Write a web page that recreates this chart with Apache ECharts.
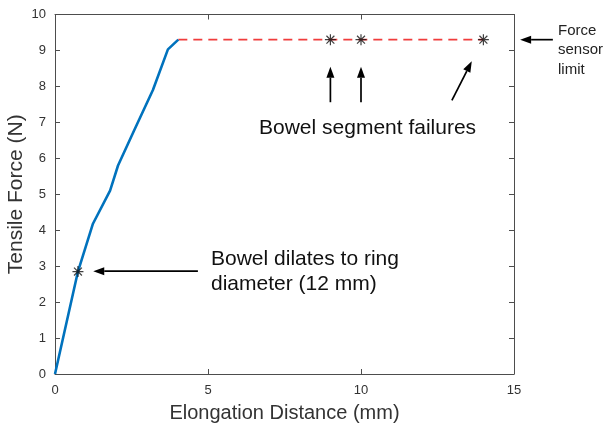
<!DOCTYPE html>
<html>
<head>
<meta charset="utf-8">
<script src="https://cdn.jsdelivr.net/npm/echarts@6/dist/echarts.min.js"></script>
<style>html,body{margin:0;padding:0;background:#fff;}#c{width:606px;height:425px;}</style>
</head>
<body>
<div id="c"></div>
<script>
// Data
var forceCurve = [[0,0],[0.75,2.85],[1.24,4.18],[1.8,5.1],[2.06,5.8],[2.6,6.8],[3.2,7.9],[3.69,9.03],[4.03,9.3]];
var sensorLimit = [[4.03,9.3],[14,9.3]];
var dilatePoint = [[0.75,2.85]];
var failurePoints = [[9,9.3],[10,9.3],[14,9.3]];
var xTicks = [0,5,10,15];
var yTicks = [0,1,2,3,4,5,6,7,8,9,10];
// annotation arrows: [from, to] in data units
var arrows = [
  [[9,7.56],[9,8.55]],
  [[10,7.56],[10,8.55]],
  [[12.97,7.61],[13.62,8.7]],
  [[16.27,9.3],[15.2,9.3]],
  [[4.67,2.86],[1.25,2.86]]
];

var font = "'Liberation Sans', Arial, sans-serif";
var star = 'path://M0,-5L0,5M-5,0L5,0M-3.6,-3.6L3.6,3.6M-3.6,3.6L3.6,-3.6';
var axisCol = '#4d4d4d';

var chart = echarts.init(document.getElementById('c'));
function ax(extra) {
  return Object.assign({
    type: 'value',
    axisLine: {show: true, onZero: false, lineStyle: {color: axisCol, width: 1}},
    axisTick: {show: true, inside: true, length: 5, lineStyle: {color: axisCol}},
    splitLine: {show: false},
    axisLabel: {show: false}
  }, extra);
}
chart.setOption({
  animation: false,
  backgroundColor: '#fff',
  grid: {left: 55, right: 92, top: 14.5, bottom: 51, containLabel: false, outerBoundsMode: 'none'},
  xAxis: [
    ax({position: 'bottom', min: 0, max: 15, interval: 5,
      name: 'Elongation Distance (mm)', nameLocation: 'middle', nameGap: 29,
      nameTextStyle: {fontFamily: font, fontSize: 20, color: '#333'},
      axisLabel: {show: true, color: '#333', fontFamily: font, fontSize: 13, margin: 10}}),
    ax({position: 'top', min: 0, max: 15, interval: 5})
  ],
  yAxis: [
    ax({position: 'left', min: 0, max: 10, interval: 1,
      name: 'Tensile Force (N)', nameLocation: 'middle', nameGap: 28, nameRotate: 90, nameMoveOverlap: false,
      nameTextStyle: {fontFamily: font, fontSize: 21, color: '#333'},
      axisLabel: {show: true, color: '#333', fontFamily: font, fontSize: 13, margin: 9}}),
    ax({position: 'right', min: 0, max: 10, interval: 1})
  ],
  series: [
    {type: 'line', data: forceCurve, showSymbol: false, lineStyle: {color: '#0072BD', width: 2.6}, z: 3},
    {type: 'line', data: sensorLimit, showSymbol: false, lineStyle: {color: '#f03c3c', width: 1.8, type: [9, 6]}, z: 2},
    {type: 'scatter', data: dilatePoint.concat(failurePoints), symbol: star, symbolSize: 11,
      itemStyle: {color: 'none', borderColor: '#111', borderWidth: 1.2}, z: 5}
  ],
  graphic: [
    {type: 'text', left: 259, top: 118, style: {text: 'Bowel segment failures', font: '21px ' + font, fill: '#111'}},
    {type: 'text', left: 211, top: 247, style: {text: 'Bowel dilates to ring\ndiameter (12 mm)', font: '21px ' + font, fill: '#111', lineHeight: 25}},
    {type: 'text', left: 558, top: 21, style: {text: 'Force\nsensor\nlimit', font: '15px ' + font, fill: '#222', lineHeight: 19.5}}
  ]
});

// arrows drawn from data coords through the axes' scales
var g = [];
arrows.forEach(function (a) {
  var p0 = chart.convertToPixel({gridIndex: 0}, a[0]);
  var p1 = chart.convertToPixel({gridIndex: 0}, a[1]);
  var dx = p1[0] - p0[0], dy = p1[1] - p0[1];
  var L = Math.sqrt(dx * dx + dy * dy), ux = dx / L, uy = dy / L;
  var hl = 11, hw = 4;
  var bx = p1[0] - ux * hl, by = p1[1] - uy * hl;
  g.push({type: 'line', shape: {x1: p0[0], y1: p0[1], x2: bx, y2: by}, style: {stroke: '#000', lineWidth: 1.7}, z: 10});
  g.push({type: 'polygon', shape: {points: [[p1[0], p1[1]], [bx - uy * hw, by + ux * hw], [bx + uy * hw, by - ux * hw]]}, style: {fill: '#000'}, z: 10});
});
chart.setOption({graphic: chart.getOption().graphic[0].elements.concat(g)});
</script>
</body>
</html>
